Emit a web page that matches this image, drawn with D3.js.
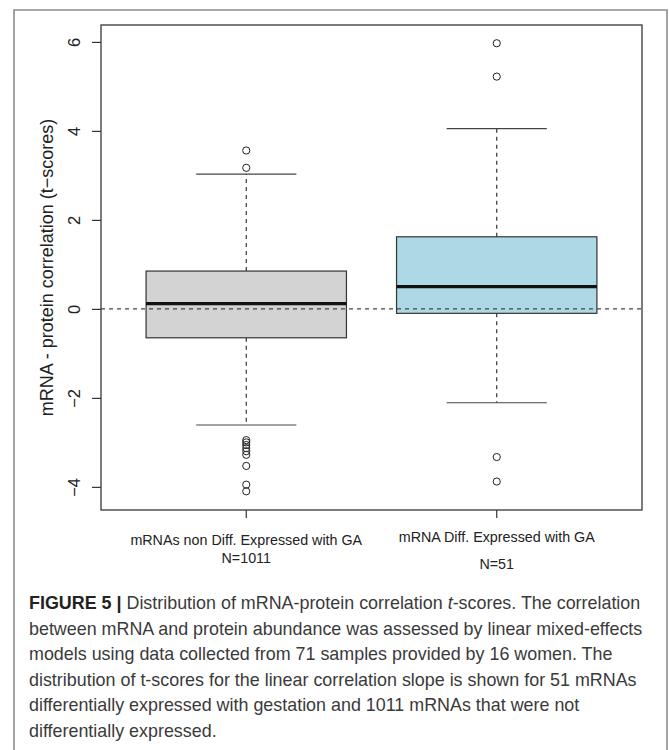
<!DOCTYPE html>
<html>
<head>
<meta charset="utf-8">
<script src="https://cdn.jsdelivr.net/npm/d3@7"></script>
<style>
  html, body { margin: 0; padding: 0; background: #fff; }
  svg { display: block; }
</style>
</head>
<body>
<svg id="chart" width="669" height="750"></svg>
<script>
// data
const groups = ["non", "diff"];
const groupLabels = [
    ["mRNAs non Diff. Expressed with GA", "N=1011"],
    ["mRNA Diff. Expressed with GA", "N=51"]
];
const q1 = [-0.65, -0.10];
const medians = [0.12, 0.50];
const q3 = [0.85, 1.62];
const whiskLow = [-2.61, -2.11];
const whiskHigh = [3.03, 4.05];
const outliers = [
    [3.17, 3.56, -2.95, -3.0, -3.06, -3.13, -3.2, -3.28, -3.53, -3.95, -4.1],
    [5.97, 5.22, -3.33, -3.88]
];
const fills = ["#d3d3d4", "#add9e7"];
const yTicks = [-4, -2, 0, 2, 4, 6];

const captionLines = [
    [["FIGURE 5 | ", "b"], ["Distribution of mRNA-protein correlation ", ""], ["t", "i"], ["-scores. The correlation", ""]],
    [["between mRNA and protein abundance was assessed by linear mixed-effects", ""]],
    [["models using data collected from 71 samples provided by 16 women. The", ""]],
    [["distribution of t-scores for the linear correlation slope is shown for 51 mRNAs", ""]],
    [["differentially expressed with gestation and 1011 mRNAs that were not", ""]],
    [["differentially expressed.", ""]]
];

// layout
const plot = { left: 101, top: 25, right: 642, bottom: 510 };
const svg = d3.select("#chart");

// outer figure frame (open at bottom)
svg.append("path")
    .attr("d", "M14,760 L14,10 L667,10 L667,760")
    .attr("fill", "none")
    .attr("stroke", "#8c8c8c")
    .attr("stroke-width", 1.6);

// R style scales: 4% padding
const y = d3.scaleLinear().domain([-4.52, 6.38]).range([plot.bottom, plot.top]);
const x = d3.scaleLinear().domain([0.42, 2.58]).range([plot.left, plot.right]);
const boxW = x(1.4) - x(1);
const capW = x(1.2) - x(1);

const g = svg.append("g");

groups.forEach((k, i) => {
    const cx = x(i + 1);
    // whiskers
    g.append("line")
        .attr("x1", cx).attr("x2", cx)
        .attr("y1", y(q3[i])).attr("y2", y(whiskHigh[i]))
        .attr("stroke", "#333").attr("stroke-width", 1.2)
        .attr("stroke-dasharray", "4,4");
    g.append("line")
        .attr("x1", cx).attr("x2", cx)
        .attr("y1", y(q1[i])).attr("y2", y(whiskLow[i]))
        .attr("stroke", "#333").attr("stroke-width", 1.2)
        .attr("stroke-dasharray", "4,4");
    // staples
    [whiskLow[i], whiskHigh[i]].forEach(v => {
        g.append("line")
            .attr("x1", cx - capW).attr("x2", cx + capW)
            .attr("y1", y(v)).attr("y2", y(v))
            .attr("stroke", "#444").attr("stroke-width", 1.2);
    });
    // box
    g.append("rect")
        .attr("x", cx - boxW).attr("width", boxW * 2)
        .attr("y", y(q3[i])).attr("height", y(q1[i]) - y(q3[i]))
        .attr("fill", fills[i])
        .attr("stroke", "#333").attr("stroke-width", 1.2);
    // median
    g.append("line")
        .attr("x1", cx - boxW).attr("x2", cx + boxW)
        .attr("y1", y(medians[i])).attr("y2", y(medians[i]))
        .attr("stroke", "#111").attr("stroke-width", 3.2);
    // outliers
    g.selectAll(null)
        .data(outliers[i])
        .join("circle")
        .attr("cx", cx).attr("cy", d => y(d))
        .attr("r", 3.6)
        .attr("fill", "none")
        .attr("stroke", "#222").attr("stroke-width", 1);
});

// zero reference line, drawn over the boxes
g.append("line")
    .attr("x1", plot.left).attr("x2", plot.right)
    .attr("y1", y(0)).attr("y2", y(0))
    .attr("stroke", "#444").attr("stroke-width", 1.2)
    .attr("stroke-dasharray", "4,4");

// plot frame
svg.append("rect")
    .attr("x", plot.left).attr("y", plot.top)
    .attr("width", plot.right - plot.left).attr("height", plot.bottom - plot.top)
    .attr("fill", "none")
    .attr("stroke", "#4a4444").attr("stroke-width", 1.4);

// y axis
const yAxis = svg.append("g")
    .attr("transform", `translate(${plot.left},0)`)
    .call(d3.axisLeft(y).tickValues(yTicks).tickSize(9).tickFormat(d => d < 0 ? "\u2212" + Math.abs(d) : d));
yAxis.select(".domain").remove();
yAxis.selectAll(".tick line").attr("stroke", "#333").attr("stroke-width", 1.2);
yAxis.selectAll(".tick text")
    .attr("transform", "rotate(-90)")
    .attr("x", 0).attr("y", -27)
    .attr("dy", "0.35em")
    .attr("text-anchor", "middle")
    .attr("font-family", "Liberation Sans, Arial, sans-serif")
    .attr("font-size", 16.5)
    .attr("fill", "#222");

svg.append("text")
    .attr("transform", `translate(53,${(plot.top + plot.bottom) / 2}) rotate(-90)`)
    .attr("text-anchor", "middle")
    .attr("font-family", "Liberation Sans, Arial, sans-serif")
    .attr("font-size", 18)
    .attr("fill", "#222")
    .text("mRNA - protein correlation (t\u2212scores)");

// x axis ticks and labels
groups.forEach((k, i) => {
    const cx = x(i + 1);
    svg.append("line")
        .attr("x1", cx).attr("x2", cx)
        .attr("y1", plot.bottom).attr("y2", plot.bottom + 8)
        .attr("stroke", "#333").attr("stroke-width", 1.2);
});
const labelY = [[545, 563], [542, 569]];
groupLabels.forEach((lines, i) => {
    lines.forEach((t, j) => {
        svg.append("text")
            .attr("x", x(i + 1)).attr("y", labelY[i][j])
            .attr("text-anchor", "middle")
            .attr("font-family", "Liberation Sans, Arial, sans-serif")
            .attr("font-size", 14.3)
            .attr("fill", "#222")
            .text(t);
    });
});

// caption
const cap = svg.append("g")
    .attr("font-family", "Liberation Sans, Arial, sans-serif")
    .attr("font-size", 17.9)
    .attr("fill", "#3a3a3a");
captionLines.forEach((parts, i) => {
    const t = cap.append("text").attr("x", 29).attr("y", 609 + i * 25.6);
    parts.forEach(([s, st]) => {
        t.append("tspan")
            .attr("font-weight", st === "b" ? "bold" : null)
            .attr("font-style", st === "i" ? "italic" : null)
            .attr("fill", st === "b" ? "#222" : null)
            .text(s);
    });
});
</script>
</body>
</html>
